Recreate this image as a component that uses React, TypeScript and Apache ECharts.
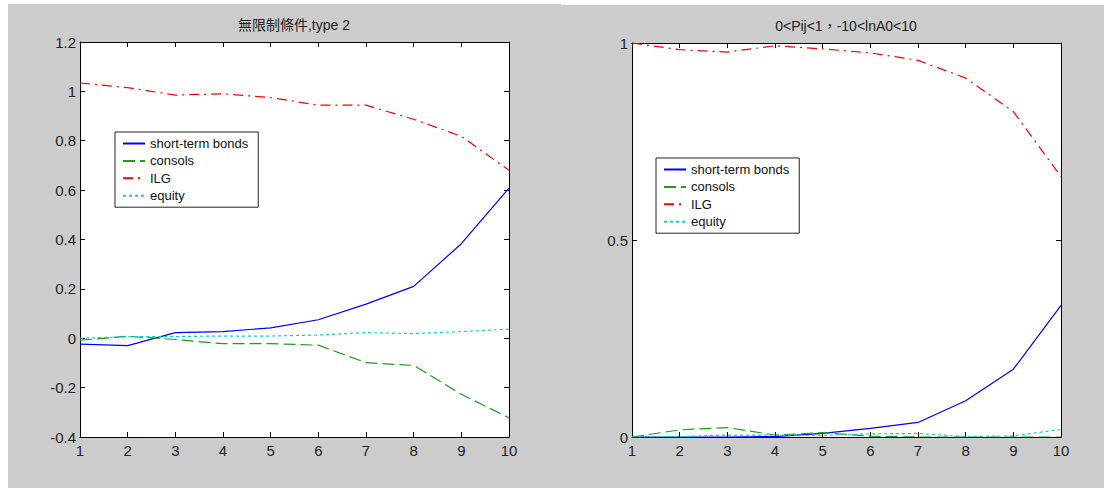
import React, { useEffect, useRef } from "react";
import * as echarts from "echarts";

const xs = [1, 2, 3, 4, 5, 6, 7, 8, 9, 10];
const seriesNames = ["short-term bonds", "consols", "ILG", "equity"];

// Left panel: 無限制條件,type 2
const leftBonds = [-0.024, -0.03, 0.023, 0.027, 0.042, 0.075, 0.138, 0.21, 0.383, 0.608];
const leftConsols = [-0.008, 0.008, -0.005, -0.022, -0.022, -0.028, -0.099, -0.11, -0.227, -0.322];
const leftILG = [1.034, 1.015, 0.985, 0.99, 0.975, 0.944, 0.944, 0.887, 0.818, 0.68];
const leftEquity = [0.0, 0.006, 0.007, 0.009, 0.009, 0.013, 0.023, 0.019, 0.027, 0.037];

// Right panel: 0<Pij<1，-10<lnA0<10
const rightBonds = [0.0, 0.0, 0.0, 0.001, 0.009, 0.022, 0.037, 0.092, 0.172, 0.334];
const rightConsols = [0.0, 0.018, 0.024, 0.005, 0.011, 0.002, 0.0, 0.0, 0.0, 0.0];
const rightILG = [1.0, 0.983, 0.977, 0.993, 0.985, 0.975, 0.956, 0.911, 0.826, 0.661];
const rightEquity = [0.0, 0.001, 0.005, 0.005, 0.004, 0.008, 0.009, 0.001, 0.003, 0.019];

const leftTitle = "無限制條件,type 2";
const rightTitle = "0<Pij<1，-10<lnA0<10";

const FONT = "'Liberation Sans', 'Noto Sans CJK TC', sans-serif";

const styles = [
  { color: "#0000ff", type: "solid" as any },
  { color: "#1f9a1f", type: [12, 5] as any },
  { color: "#ff0000", type: [10, 5, 2, 5] as any },
  { color: "#19cccc", type: [3, 3] as any },
];

function pairs(vals: number[]) {
  return xs.map((x, i) => [x, vals[i]]);
}

export default function App() {
  const ref = useRef<HTMLDivElement>(null);
  useEffect(() => {
    if (!ref.current) return;
    const chart = echarts.init(ref.current, undefined, { renderer: "svg" });
    const fmt = (v: number) => String(+v.toFixed(2));
    const grids = [
      { left: 80, top: 42, width: 429, height: 395 },
      { left: 632, top: 43, width: 429, height: 394 },
    ];
    const yRanges = [
      { min: -0.4, max: 1.2, interval: 0.2 },
      { min: 0, max: 1, interval: 0.5 },
    ];
    const xAxis: any[] = [];
    const yAxis: any[] = [];
    [0, 1].forEach((g) => {
      ["bottom", "top"].forEach((pos) => {
        xAxis.push({
          type: "value",
          gridIndex: g,
          position: pos,
          min: 1,
          max: 10,
          interval: 1,
          axisLine: { show: true, onZero: false, lineStyle: { color: "#000", width: 1 } },
          axisTick: { show: true, inside: true, length: 5, lineStyle: { color: "#000" } },
          axisLabel: {
            show: pos === "bottom",
            color: "#222",
            fontSize: 15,
            fontFamily: FONT,
            margin: 6,
          },
          splitLine: { show: false },
        });
      });
      ["left", "right"].forEach((pos) => {
        yAxis.push({
          type: "value",
          gridIndex: g,
          position: pos,
          ...yRanges[g],
          axisLine: { show: true, onZero: false, lineStyle: { color: "#000", width: 1 } },
          axisTick: { show: true, inside: true, length: 5, lineStyle: { color: "#000" } },
          axisLabel: {
            show: pos === "left",
            color: "#222",
            fontSize: 15,
            fontFamily: FONT,
            margin: 4,
            formatter: fmt,
          },
          splitLine: { show: false },
        });
      });
    });
    const panels = [
      [leftBonds, leftConsols, leftILG, leftEquity],
      [rightBonds, rightConsols, rightILG, rightEquity],
    ];
    const series: any[] = [];
    panels.forEach((vals, g) => {
      vals.forEach((v, i) => {
        series.push({
          type: "line",
          name: seriesNames[i],
          xAxisIndex: g * 2,
          yAxisIndex: g * 2,
          data: pairs(v),
          symbol: "none",
          color: styles[i].color,
          lineStyle: { color: styles[i].color, type: styles[i].type, width: 1.2 },
        });
      });
    });
    const legendBase = {
      orient: "vertical",
      data: seriesNames,
      itemWidth: 22,
      itemHeight: 14,
      itemGap: 4.4,
      itemTextGap: 9,
      padding: [5, 10, 5, 7],
      backgroundColor: "#fff",
      borderColor: "#222",
      borderWidth: 1,
      borderRadius: 0,
      selectedMode: false,
      itemStyle: { opacity: 0, borderWidth: 0 },
      textStyle: { fontSize: 13, color: "#111", fontFamily: FONT },
    };
    chart.setOption({
      animation: false,
      backgroundColor: "#ffffff",
      graphic: [
        { type: "rect", z: -10, silent: true, shape: { x: 8, y: 4, width: 553, height: 484 }, style: { fill: "#cccccc" } },
        { type: "rect", z: -10, silent: true, shape: { x: 561, y: 5, width: 543, height: 483 }, style: { fill: "#cccccc" } },
        {
          type: "text",
          x: 294,
          y: 25,
          style: { text: leftTitle, align: "center", verticalAlign: "middle", fontSize: 14, fontFamily: FONT, fill: "#222" },
        },
        {
          type: "text",
          x: 846,
          y: 26,
          style: { text: rightTitle, align: "center", verticalAlign: "middle", fontSize: 14, fontFamily: FONT, fill: "#222" },
        },
      ],
      grid: grids.map((g) => ({ ...g, show: true, backgroundColor: "#ffffff", borderWidth: 0 })),
      xAxis,
      yAxis,
      legend: [
        { ...legendBase, left: 115, top: 132 },
        { ...legendBase, left: 656, top: 158 },
      ],
      series,
    });
    return () => chart.dispose();
  }, []);
  return (
    <div
      ref={ref}
      style={{ position: "absolute", left: 0, top: 0, width: 1104, height: 488 }}
    />
  );
}
